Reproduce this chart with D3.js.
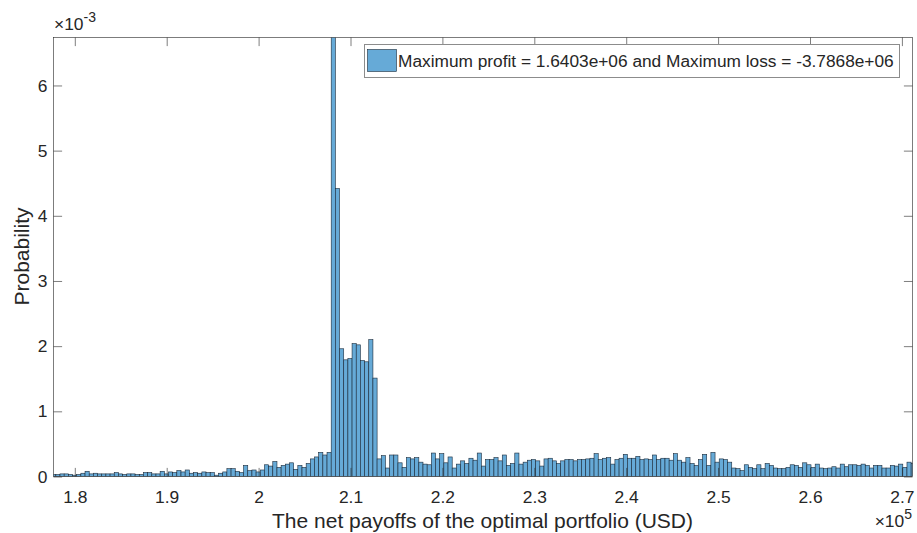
<!DOCTYPE html>
<html>
<head>
<meta charset="utf-8">
<script src="https://cdn.jsdelivr.net/npm/d3@7"></script>
<style>
  body { margin: 0; background: #fff; }
  text { font-family: "Liberation Sans", Arial, Helvetica, sans-serif; fill: #262626; }
</style>
</head>
<body>
<div id="chart"></div>
<script>

// histogram bins (USD) and probabilities in units of 1e-3
const binStart = 177482;
const binWidth = 454;
const probs = [
  0.03, 0.03, 0.04, 0.04, 0.03, 0.02, 0.03, 0.05, 0.08, 0.04,
  0.05, 0.04, 0.04, 0.04, 0.04, 0.06, 0.04, 0.03, 0.04, 0.04,
  0.03, 0.03, 0.06, 0.06, 0.04, 0.04, 0.08, 0.04, 0.07, 0.06,
  0.09, 0.07, 0.10, 0.05, 0.06, 0.05, 0.07, 0.06, 0.06, 0.02,
  0.05, 0.07, 0.12, 0.12, 0.08, 0.06, 0.17, 0.09, 0.10, 0.07,
  0.10, 0.18, 0.16, 0.23, 0.14, 0.17, 0.19, 0.21, 0.11, 0.17,
  0.14, 0.20, 0.27, 0.30, 0.37, 0.33, 0.37,
  7.20,
  4.42, 1.96, 1.79, 1.81, 2.04, 2.02, 1.78, 1.76, 2.10, 1.51,
  0.27, 0.32, 0.13, 0.33, 0.33, 0.21, 0.14, 0.29, 0.27, 0.29,
  0.22, 0.19, 0.18, 0.36, 0.27, 0.35, 0.21, 0.30, 0.13, 0.19,
  0.24, 0.20, 0.28, 0.25, 0.36, 0.16, 0.26, 0.26, 0.29, 0.24,
  0.33, 0.17, 0.20, 0.36, 0.19, 0.22, 0.25, 0.26, 0.24, 0.16,
  0.27, 0.28, 0.24, 0.20, 0.24, 0.26, 0.26, 0.24, 0.26, 0.26,
  0.27, 0.28, 0.35, 0.26, 0.28, 0.29, 0.19, 0.26, 0.28, 0.34,
  0.28, 0.28, 0.31, 0.26, 0.27, 0.26, 0.33, 0.26, 0.28, 0.28,
  0.25, 0.35, 0.25, 0.22, 0.29, 0.20, 0.17, 0.26, 0.34, 0.17,
  0.37, 0.22, 0.27, 0.26, 0.22, 0.13, 0.12, 0.09, 0.18, 0.14,
  0.12, 0.18, 0.12, 0.20, 0.17, 0.13, 0.12, 0.12, 0.14, 0.18,
  0.17, 0.14, 0.21, 0.18, 0.14, 0.19, 0.13, 0.12, 0.13, 0.15,
  0.13, 0.19, 0.15, 0.18, 0.18, 0.17, 0.19, 0.17, 0.13, 0.17,
  0.17, 0.13, 0.13, 0.17, 0.16, 0.19, 0.14, 0.22, 0.20
];

const xLim = [177682, 271153];
const yLim = [0, 6.736];
const xTicks = [180000, 190000, 200000, 210000, 220000, 230000, 240000, 250000, 260000, 270000];
const yTicks = [0, 1, 2, 3, 4, 5, 6];

const legendLabel = "Maximum profit = 1.6403e+06 and Maximum loss = -3.7868e+06";
const xLabel = "The net payoffs of the optimal portfolio (USD)";
const yLabel = "Probability";

const W = 917, H = 533;
const margin = {top: 37, right: 5, bottom: 57, left: 53};
const width = W - margin.left - margin.right;
const height = H - margin.top - margin.bottom;
const tickLen = 8.6;

const bins = probs.map(function (p, i) {
  return {x0: binStart + i * binWidth, x1: binStart + (i + 1) * binWidth, p: p};
});

const xScale = d3.scaleLinear().domain(xLim).range([0, width]);
const yScale = d3.scaleLinear().domain(yLim).range([height, 0]);

const svg = d3.select("#chart")
  .append("svg")
  .attr("width", W)
  .attr("height", H);

const g = svg.append("g")
  .attr("transform", "translate(" + (margin.left + 0.5) + "," + (margin.top + 0.5) + ")");

svg.append("defs").append("clipPath")
  .attr("id", "plotclip")
  .append("rect")
  .attr("x", 0).attr("y", 0)
  .attr("width", width).attr("height", height);

// bars
g.append("g")
  .attr("clip-path", "url(#plotclip)")
  .selectAll("rect")
  .data(bins)
  .enter()
  .append("rect")
  .attr("x", function (d) { return xScale(d.x0); })
  .attr("y", function (d) { return yScale(d.p); })
  .attr("width", function (d) { return xScale(d.x1) - xScale(d.x0); })
  .attr("height", function (d) { return yScale(0) - yScale(d.p); })
  .attr("fill", "rgb(102,170,215)")
  .attr("stroke", "#1a2a3a")
  .attr("stroke-width", 0.6);

// axes, MATLAB style: ticks pointing in, box on
const xAxis = d3.axisBottom(xScale)
  .tickValues(xTicks)
  .tickSizeInner(-tickLen).tickSizeOuter(0)
  .tickPadding(14)
  .tickFormat(function (d) { return d3.format("~g")(d / 1e5); });
const xAxisTop = d3.axisTop(xScale)
  .tickValues(xTicks).tickSizeInner(-tickLen).tickSizeOuter(0)
  .tickFormat("");
const yAxis = d3.axisLeft(yScale)
  .tickValues(yTicks)
  .tickSizeInner(-tickLen).tickSizeOuter(0)
  .tickPadding(6)
  .tickFormat(d3.format("d"));
const yAxisRight = d3.axisRight(yScale)
  .tickValues(yTicks).tickSizeInner(-tickLen).tickSizeOuter(0)
  .tickFormat("");

function styleAxis(sel) {
  sel.select(".domain").remove();
  sel.selectAll(".tick line").attr("stroke", "#262626").attr("stroke-width", 0.6);
  sel.selectAll(".tick text")
    .attr("fill", "#262626")
    .style("font-size", "17.4px")
    .style("font-family", "'Liberation Sans', Arial, sans-serif");
}

g.append("g").attr("transform", "translate(0," + height + ")").call(xAxis).call(styleAxis);
g.append("g").call(xAxisTop).call(styleAxis);
g.append("g").call(yAxis).call(styleAxis);
g.append("g").attr("transform", "translate(" + width + ",0)").call(yAxisRight).call(styleAxis);

// box
g.append("rect")
  .attr("x", 0).attr("y", 0)
  .attr("width", width).attr("height", height)
  .attr("fill", "none")
  .attr("stroke", "#262626")
  .attr("stroke-width", 0.6);

// exponent labels
const expY = svg.append("text")
  .attr("x", margin.left + 1)
  .attr("y", margin.top - 7)
  .style("font-size", "17.4px");
expY.append("tspan").text("\u00d710");
expY.append("tspan").attr("dy", -8).style("font-size", "14px").text("-3");

const expX = svg.append("text")
  .attr("x", margin.left + width)
  .attr("y", H - 6)
  .attr("text-anchor", "end")
  .style("font-size", "17.4px");
expX.append("tspan").text("\u00d710");
expX.append("tspan").attr("dy", -8).style("font-size", "14px").text("5");

// axis labels
svg.append("text")
  .attr("x", margin.left + width / 2)
  .attr("y", 528)
  .attr("text-anchor", "middle")
  .style("font-size", "21px")
  .text(xLabel);

svg.append("text")
  .attr("transform", "translate(29," + (margin.top + height / 2) + ") rotate(-90)")
  .attr("text-anchor", "middle")
  .style("font-size", "21px")
  .text(yLabel);

// legend
const legend = svg.append("g").attr("transform", "translate(364,44)");
legend.append("rect")
  .attr("x", 0.5).attr("y", 0.5)
  .attr("width", 535).attr("height", 33)
  .attr("fill", "#fff")
  .attr("stroke", "#8c8c8c")
  .attr("stroke-width", 1);
legend.append("rect")
  .attr("x", 3.5).attr("y", 5.5)
  .attr("width", 29).attr("height", 22)
  .attr("fill", "rgb(102,170,215)")
  .attr("stroke", "#1a2a3a")
  .attr("stroke-width", 0.6);
legend.append("text")
  .attr("x", 34)
  .attr("y", 23)
  .style("font-size", "17.3px")
  .attr("fill", "#000")
  .text(legendLabel);
</script>
</body>
</html>
